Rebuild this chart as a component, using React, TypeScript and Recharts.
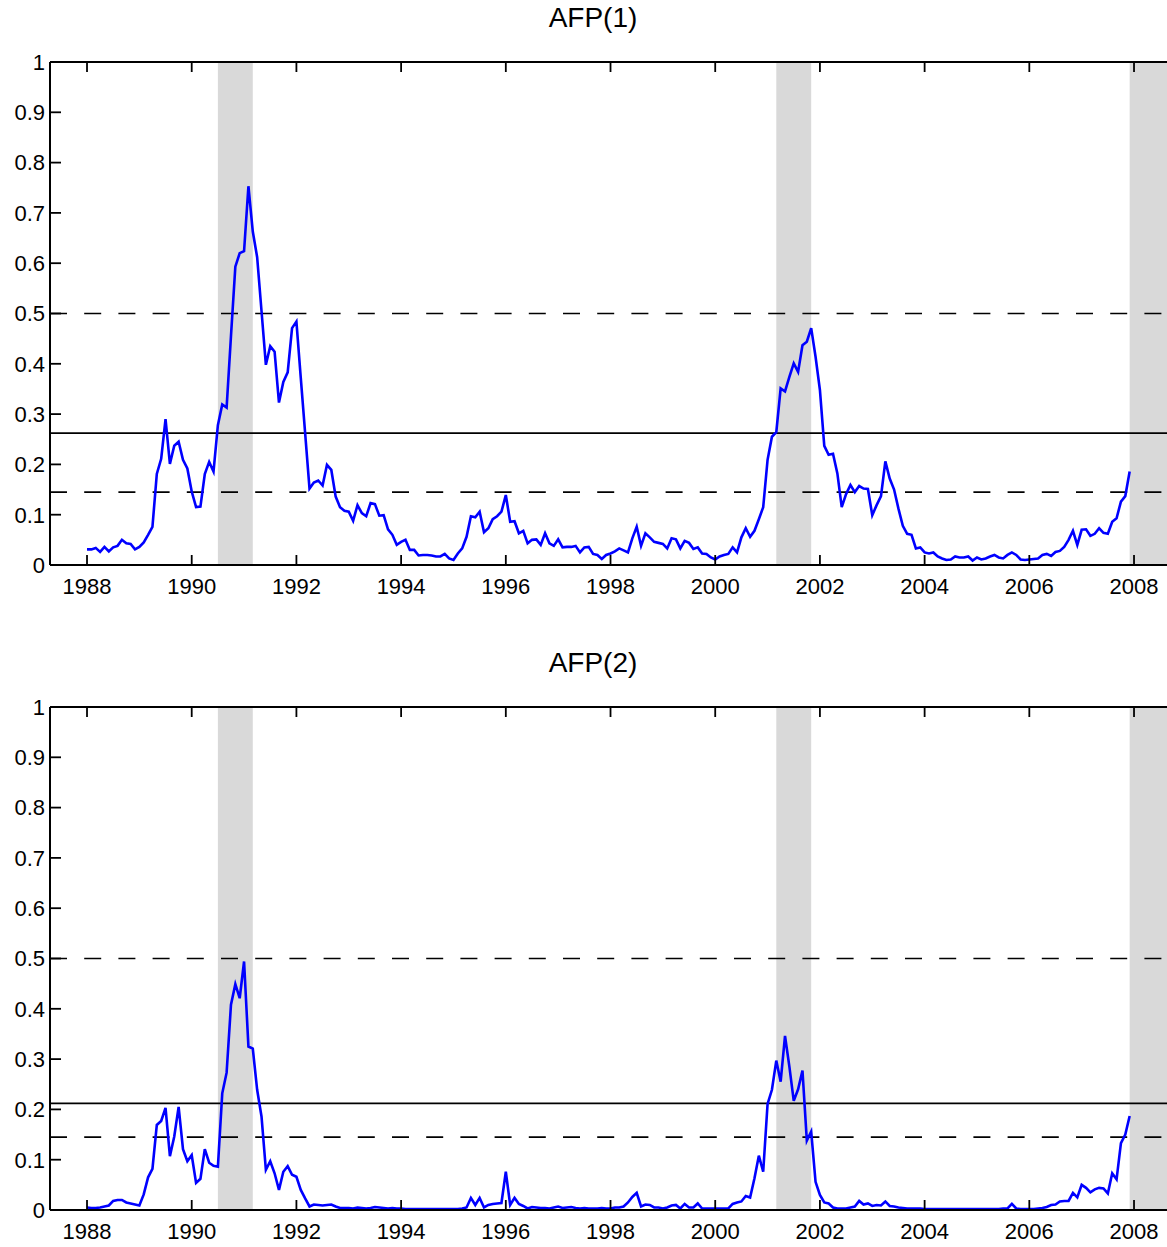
import { LineChart, Line, XAxis, YAxis, ReferenceArea, ReferenceLine } from "recharts"

// monthly values, Jan 1988 .. Dec 2007, one row per year
const afp1 = [
  [0.031, 0.031, 0.034, 0.026, 0.036, 0.027, 0.035, 0.038, 0.050, 0.043, 0.042, 0.031],
  [0.036, 0.045, 0.060, 0.076, 0.181, 0.211, 0.290, 0.201, 0.237, 0.245, 0.209, 0.192],
  [0.146, 0.115, 0.116, 0.181, 0.205, 0.186, 0.278, 0.319, 0.313, 0.455, 0.593, 0.620],
  [0.624, 0.753, 0.663, 0.612, 0.505, 0.398, 0.435, 0.424, 0.323, 0.364, 0.383, 0.471],
  [0.484, 0.372, 0.262, 0.152, 0.164, 0.168, 0.158, 0.199, 0.189, 0.136, 0.115, 0.108],
  [0.106, 0.088, 0.119, 0.103, 0.097, 0.123, 0.121, 0.098, 0.099, 0.071, 0.060, 0.040],
  [0.046, 0.050, 0.030, 0.030, 0.019, 0.020, 0.020, 0.019, 0.017, 0.017, 0.022, 0.013],
  [0.010, 0.023, 0.033, 0.056, 0.097, 0.095, 0.106, 0.065, 0.073, 0.091, 0.097, 0.106],
  [0.139, 0.086, 0.087, 0.063, 0.068, 0.043, 0.050, 0.051, 0.040, 0.063, 0.043, 0.038],
  [0.051, 0.035, 0.036, 0.036, 0.038, 0.025, 0.035, 0.036, 0.022, 0.020, 0.012, 0.020],
  [0.023, 0.027, 0.033, 0.029, 0.025, 0.053, 0.076, 0.038, 0.063, 0.055, 0.046, 0.044],
  [0.042, 0.033, 0.053, 0.051, 0.033, 0.048, 0.044, 0.032, 0.035, 0.023, 0.022, 0.015],
  [0.011, 0.017, 0.020, 0.022, 0.035, 0.025, 0.055, 0.073, 0.056, 0.068, 0.091, 0.115],
  [0.209, 0.255, 0.264, 0.351, 0.345, 0.374, 0.401, 0.384, 0.437, 0.444, 0.471, 0.414],
  [0.348, 0.237, 0.219, 0.221, 0.182, 0.115, 0.141, 0.159, 0.145, 0.157, 0.152, 0.151],
  [0.099, 0.119, 0.137, 0.206, 0.172, 0.150, 0.112, 0.078, 0.062, 0.060, 0.033, 0.035],
  [0.025, 0.023, 0.025, 0.017, 0.013, 0.010, 0.011, 0.017, 0.015, 0.015, 0.017, 0.009],
  [0.015, 0.011, 0.013, 0.017, 0.020, 0.015, 0.013, 0.020, 0.025, 0.020, 0.011, 0.010],
  [0.011, 0.012, 0.013, 0.020, 0.022, 0.018, 0.026, 0.028, 0.036, 0.050, 0.068, 0.040],
  [0.070, 0.071, 0.058, 0.062, 0.073, 0.064, 0.062, 0.086, 0.093, 0.126, 0.137, 0.186],
]

const afp2 = [
  [0.005, 0.004, 0.004, 0.005, 0.007, 0.009, 0.018, 0.020, 0.020, 0.015, 0.013, 0.011],
  [0.009, 0.031, 0.065, 0.082, 0.169, 0.177, 0.203, 0.107, 0.146, 0.205, 0.121, 0.097],
  [0.109, 0.054, 0.062, 0.121, 0.094, 0.088, 0.086, 0.232, 0.273, 0.408, 0.449, 0.421],
  [0.494, 0.325, 0.321, 0.239, 0.186, 0.080, 0.097, 0.073, 0.040, 0.076, 0.087, 0.070],
  [0.066, 0.040, 0.023, 0.007, 0.011, 0.010, 0.009, 0.010, 0.011, 0.007, 0.004, 0.004],
  [0.004, 0.003, 0.005, 0.004, 0.003, 0.004, 0.006, 0.005, 0.004, 0.003, 0.004, 0.003],
  [0.003, 0.002, 0.002, 0.002, 0.002, 0.002, 0.002, 0.002, 0.002, 0.002, 0.002, 0.002],
  [0.002, 0.002, 0.003, 0.005, 0.024, 0.010, 0.024, 0.005, 0.010, 0.012, 0.013, 0.014],
  [0.076, 0.010, 0.024, 0.012, 0.008, 0.003, 0.006, 0.005, 0.004, 0.004, 0.003, 0.005],
  [0.007, 0.004, 0.005, 0.006, 0.004, 0.003, 0.004, 0.003, 0.003, 0.003, 0.004, 0.003],
  [0.003, 0.005, 0.005, 0.007, 0.015, 0.026, 0.034, 0.007, 0.011, 0.010, 0.005, 0.005],
  [0.003, 0.005, 0.009, 0.010, 0.003, 0.012, 0.005, 0.005, 0.013, 0.003, 0.003, 0.003],
  [0.003, 0.003, 0.003, 0.003, 0.012, 0.015, 0.017, 0.028, 0.025, 0.063, 0.108, 0.076],
  [0.211, 0.239, 0.297, 0.255, 0.346, 0.285, 0.217, 0.240, 0.277, 0.138, 0.156, 0.056],
  [0.030, 0.015, 0.013, 0.005, 0.003, 0.003, 0.003, 0.005, 0.007, 0.018, 0.011, 0.013],
  [0.008, 0.010, 0.009, 0.017, 0.008, 0.007, 0.005, 0.004, 0.003, 0.003, 0.003, 0.003],
  [0.002, 0.002, 0.002, 0.002, 0.002, 0.002, 0.002, 0.002, 0.002, 0.002, 0.002, 0.002],
  [0.002, 0.002, 0.002, 0.002, 0.002, 0.002, 0.003, 0.003, 0.012, 0.003, 0.002, 0.002],
  [0.002, 0.002, 0.003, 0.004, 0.006, 0.010, 0.011, 0.017, 0.018, 0.018, 0.034, 0.025],
  [0.050, 0.044, 0.035, 0.041, 0.044, 0.043, 0.033, 0.073, 0.061, 0.133, 0.150, 0.187],
]

const startYear = 1988
const xDomain = [1987.293, 2008.63]
const yearTicks = [1988, 1990, 1992, 1994, 1996, 1998, 2000, 2002, 2004, 2006, 2008]
const probTicks = [0, 0.1, 0.2, 0.3, 0.4, 0.5, 0.6, 0.7, 0.8, 0.9, 1]

// recession bands (Jul 90 - Mar 91, Mar 01 - Nov 01, Dec 07 - )
const recessions = [
  [1990.5, 1991.1667],
  [2001.1667, 2001.8333],
  [2007.9167, 2008.63],
]

// upper dashed line, solid mean line, lower dashed line
const thresholds1 = { upper: 0.5, mean: 0.262, lower: 0.145 }
const thresholds2 = { upper: 0.5, mean: 0.212, lower: 0.145 }

const font = '"Liberation Sans", Arial, sans-serif'
const TOP = 62
const PLOT_H = 503

function toRows(series: number[][]) {
  const rows: { t: number; v: number }[] = []
  series.forEach((year, i) => {
    year.forEach((v, m) => rows.push({ t: startYear + i + m / 12, v }))
  })
  return rows
}

function fmtProb(v: number) {
  if (v === 0) return "0"
  if (v === 1) return "1"
  return v.toFixed(1)
}

// year label plus inward tick marks on the bottom and top frame
function YearTick(props: any) {
  const { x, payload } = props
  const bottom = TOP + PLOT_H
  return (
    <g>
      <line x1={x} x2={x} y1={bottom - 10} y2={bottom} stroke="#000" strokeWidth={1.8} />
      <line x1={x} x2={x} y1={TOP} y2={TOP + 10} stroke="#000" strokeWidth={1.8} />
      <text x={x} y={bottom + 29} textAnchor="middle" fontFamily={font} fontSize={22} fill="#000">
        {payload.value}
      </text>
    </g>
  )
}

type PanelProps = {
  title: string
  series: number[][]
  lines: { upper: number; mean: number; lower: number }
}

function Panel({ title, series, lines }: PanelProps) {
  const rows = toRows(series)
  const axisStroke = { stroke: "#000", strokeWidth: 2 }
  return (
    <div style={{ position: "relative", width: 1167, height: 620 }}>
      <LineChart width={1167} height={620} data={rows} margin={{ top: TOP, right: 0, bottom: 0, left: 0 }}>
        <XAxis
          dataKey="t"
          type="number"
          domain={xDomain}
          ticks={yearTicks}
          interval={0}
          allowDataOverflow
          height={55}
          tickLine={false}
          axisLine={axisStroke}
          tick={<YearTick />}
        />
        <YAxis
          type="number"
          domain={[0, 1]}
          ticks={probTicks}
          interval={0}
          width={50}
          tickSize={-11}
          tickMargin={16}
          axisLine={axisStroke}
          tickLine={{ stroke: "#000", strokeWidth: 1.8 }}
          tick={{ fill: "#000", fontSize: 22, fontFamily: font }}
          tickFormatter={fmtProb}
        />
        {recessions.map(([a, b]) => (
          <ReferenceArea key={a} x1={a} x2={b} y1={0} y2={1} fill="#d9d9d9" fillOpacity={1} stroke="none" ifOverflow="hidden" />
        ))}
        <ReferenceLine y={1} stroke="#000" strokeWidth={2} />
        <ReferenceLine y={lines.upper} stroke="#000" strokeWidth={1.7} strokeDasharray="17 17.2" />
        <ReferenceLine y={lines.mean} stroke="#000" strokeWidth={1.7} />
        <ReferenceLine y={lines.lower} stroke="#000" strokeWidth={1.7} strokeDasharray="17 17.2" />
        <Line type="linear" dataKey="v" stroke="#0000ff" strokeWidth={2.6} dot={false} isAnimationActive={false} />
      </LineChart>
      <svg width={1167} height={40} style={{ position: "absolute", left: 0, top: 0 }}>
        <text x={593} y={27} textAnchor="middle" fontFamily={font} fontSize={28} fill="#000">
          {title}
        </text>
      </svg>
    </div>
  )
}

export default function App() {
  return (
    <div style={{ position: "absolute", left: 0, top: 0, width: 1167, height: 1247, overflow: "hidden", background: "#fff" }}>
      <div style={{ position: "absolute", left: 0, top: 0 }}>
        <Panel title="AFP(1)" series={afp1} lines={thresholds1} />
      </div>
      <div style={{ position: "absolute", left: 0, top: 645 }}>
        <Panel title="AFP(2)" series={afp2} lines={thresholds2} />
      </div>
    </div>
  )
}
